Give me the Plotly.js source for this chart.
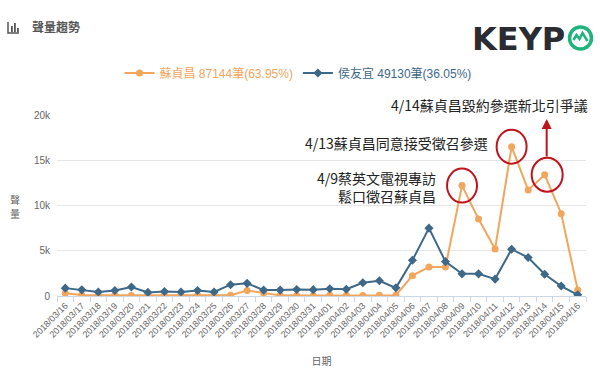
<!DOCTYPE html>
<html><head><meta charset="utf-8">
<script src="https://cdn.plot.ly/plotly-3.0.1.min.js"></script>
<style>html,body{margin:0;padding:0;background:#fff}#chart{width:600px;height:368px}</style>
</head><body><div id="chart"></div>
<script>
// ---- data ----
const dates = ['2018/03/16','2018/03/17','2018/03/18','2018/03/19','2018/03/20','2018/03/21','2018/03/22','2018/03/23',
  '2018/03/24','2018/03/25','2018/03/26','2018/03/27','2018/03/28','2018/03/29','2018/03/30','2018/03/31',
  '2018/04/01','2018/04/02','2018/04/03','2018/04/04','2018/04/05','2018/04/06','2018/04/07','2018/04/08',
  '2018/04/09','2018/04/10','2018/04/11','2018/04/12','2018/04/13','2018/04/14','2018/04/15','2018/04/16'];
const suValues = [300,100,80,90,60,80,80,80,90,80,90,600,320,70,60,60,70,70,60,70,90,2250,3200,3200,
  12200,8500,5200,16500,11700,13400,9100,650];
const houValues = [870,680,450,600,1000,400,500,450,600,450,1250,1400,650,650,720,700,800,750,1470,1690,900,3950,7500,3800,
  2450,2450,1870,5170,4250,2400,1100,130];
const suName = '蘇貞昌 87144筆(63.95%)';
const houName = '侯友宜 49130筆(36.05%)';
const chartTitle = '聲量趨勢';
const yTitle = '聲量';
const xTitle = '日期';
const note414 = '4/14蘇貞昌毀約參選新北引爭議';
const note413 = '4/13蘇貞昌同意接受徵召參選';
const note409 = '4/9蔡英文電視專訪<br>鬆口徵召蘇貞昌';
const circledIdx = [24, 27, 29];

// ---- layout helpers (pixel -> paper) ----
const L = 57, R = 586, T = 115, B = 296;
const px = x => (x - L) / (R - L);
const py = y => (B - y) / (B - T);

const orange = '#f2a55c', blue = '#3e6887', red = '#c0141c';
const latin = 'Helvetica, "Liberation Sans", Arial, "Noto Sans CJK TC", sans-serif';
const cjk = '"Noto Sans CJK TC", "Liberation Sans", sans-serif';

const traces = [
  {x: dates, y: suValues, type: 'scatter', mode: 'lines+markers',
   name: '<span style="color:' + orange + '">' + suName + '</span>',
   line: {color: orange, width: 2}, marker: {color: orange, size: 7, symbol: 'circle'}},
  {x: dates, y: houValues, type: 'scatter', mode: 'lines+markers',
   name: '<span style="color:' + blue + '">' + houName + '</span>',
   line: {color: blue, width: 2}, marker: {color: blue, size: 7, symbol: 'diamond'}}
];

const shapes = circledIdx.map((i, k) => ({
  type: 'circle', xref: 'x', yref: 'y', xsizemode: 'pixel', ysizemode: 'pixel',
  xanchor: dates[i], yanchor: suValues[i],
  x0: k === 2 ? -13 : -15, x1: k === 2 ? 18 : 15, y0: -17, y1: 17,
  line: {color: red, width: 2}
}));
// title icon (bar chart glyph)
shapes.push({type: 'path', xref: 'paper', yref: 'paper', xsizemode: 'pixel', ysizemode: 'pixel',
  xanchor: px(8), yanchor: py(33), path: 'M0,11 L0,0 L11,0', line: {color: '#555', width: 1.5}});
[[3,6],[6,9],[9,4]].forEach(([dx, h]) => shapes.push({type: 'rect', xref: 'paper', yref: 'paper',
  xsizemode: 'pixel', ysizemode: 'pixel', xanchor: px(8), yanchor: py(33),
  x0: dx, x1: dx + 1.8, y0: 1, y1: 1 + h, fillcolor: '#555', line: {width: 0}}));
// logo ring + zigzag
shapes.push({type: 'circle', xref: 'paper', yref: 'paper', xsizemode: 'pixel', ysizemode: 'pixel',
  xanchor: px(580.5), yanchor: py(38), x0: -11, x1: 11, y0: -11, y1: 11,
  line: {color: '#1fb47b', width: 3.5}});
shapes.push({type: 'path', xref: 'paper', yref: 'paper', xsizemode: 'pixel', ysizemode: 'pixel',
  xanchor: px(580.5), yanchor: py(38), path: 'M-7,-2 L-4,3 L-1,-1 L2,5 L7,-3',
  line: {color: '#1fb47b', width: 2.5}});

const annotations = [
  {xref: 'paper', yref: 'paper', x: px(30), y: py(27), xanchor: 'left', yanchor: 'middle', showarrow: false,
   text: '<b>' + chartTitle + '</b>', font: {family: cjk, size: 12, color: '#555'}},
  {xref: 'paper', yref: 'paper', x: px(470), y: py(39), xanchor: 'left', yanchor: 'middle', showarrow: false,
   text: '<b>KEYP</b>', font: {family: '"DejaVu Sans", sans-serif', size: 32, color: '#2a2c32'}},
  {xref: 'paper', yref: 'paper', x: px(590), y: py(105), xanchor: 'right', yanchor: 'middle', showarrow: false,
   text: note414, font: {family: cjk, size: 14, color: '#222'}},
  {xref: 'paper', yref: 'paper', x: px(490), y: py(143), xanchor: 'right', yanchor: 'middle', showarrow: false,
   text: note413, font: {family: cjk, size: 14, color: '#222'}},
  {xref: 'paper', yref: 'paper', x: px(438), y: py(187), xanchor: 'right', yanchor: 'middle', showarrow: false,
   align: 'right', text: note409, font: {family: cjk, size: 14, color: '#222'}},
  {xref: 'x', yref: 'paper', x: dates[29], xshift: 2, y: py(119), showarrow: true, ax: 0, ay: 39,
   arrowhead: 2, arrowsize: 1, arrowwidth: 2, arrowcolor: red, text: ''}
];
// vertical (stacked) y-axis title, one character per line
yTitle.split('').forEach((ch, i) => annotations.push({xref: 'paper', yref: 'paper', x: px(15),
  y: py(199 + i * 14), xanchor: 'center', yanchor: 'middle', showarrow: false, borderpad: 0,
  text: ch, font: {family: cjk, size: 10, color: '#666'}}));

const layout = {
  width: 600, height: 368,
  margin: {l: L, r: 600 - R, t: T, b: 368 - B},
  paper_bgcolor: '#fff', plot_bgcolor: '#fff',
  font: {family: latin, color: '#666', size: 10},
  showlegend: true,
  legend: {orientation: 'h', x: px(298), xanchor: 'center', y: py(73), yanchor: 'middle',
    font: {family: latin, size: 12}, itemwidth: 30, bgcolor: 'rgba(0,0,0,0)'},
  xaxis: {type: 'category', range: [-0.5, dates.length - 0.5], tickangle: -45, tickson: 'boundaries',
    ticks: 'outside', ticklen: 5, tickcolor: '#ccd6eb', showline: true, linecolor: '#ccd6eb', linewidth: 1,
    showgrid: false, zeroline: false, automargin: false,
    tickfont: {family: latin, size: 9, color: '#666'},
    title: {text: xTitle, font: {family: cjk, size: 10, color: '#666'}, standoff: 37}},
  yaxis: {range: [0, 20000], dtick: 5000, tickformat: '~s', showgrid: true, gridcolor: '#e6e6e6',
    zeroline: false, showline: false, automargin: false, ticks: '', ticklabelstandoff: 6,
    tickfont: {family: latin, size: 10, color: '#666'}},
  shapes: shapes,
  annotations: annotations
};

Plotly.newPlot('chart', traces, layout, {staticPlot: true, displayModeBar: false});
</script>
</body></html>
